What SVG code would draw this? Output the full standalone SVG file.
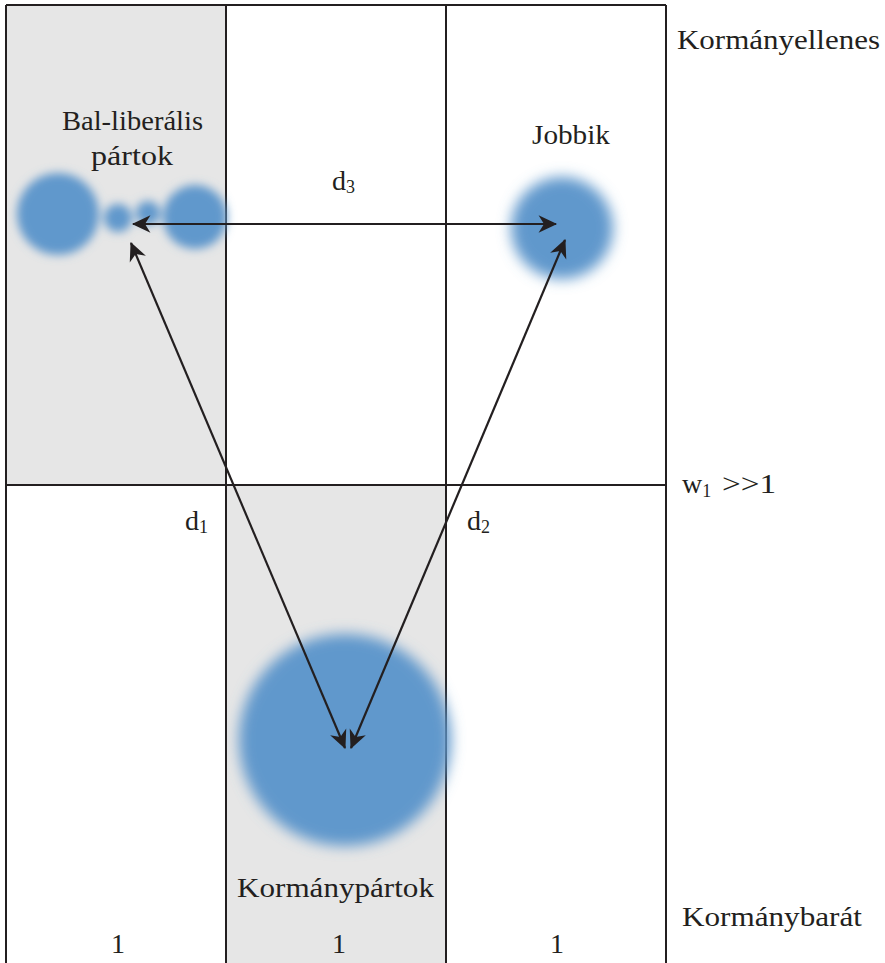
<svg xmlns="http://www.w3.org/2000/svg" width="885" height="963" viewBox="0 0 885 963">
<style>
.ln{stroke:#231f20;stroke-width:2;fill:none}
.ar{stroke:#231f20;stroke-width:2.2;fill:none}
.t{font-family:"Liberation Serif","DejaVu Serif",serif;fill:#231f20;font-size:28px}
.blob{fill:#6198cc}
</style>
<defs>
<filter id="blur" x="-50%" y="-50%" width="200%" height="200%"><feGaussianBlur stdDeviation="5"/></filter>
<filter id="blur2" x="-50%" y="-50%" width="200%" height="200%"><feGaussianBlur stdDeviation="7"/></filter>
<marker id="ah" markerUnits="userSpaceOnUse" markerWidth="24" markerHeight="24" viewBox="-20 -10 22 20" refX="0" refY="0" orient="auto-start-reverse">
<path d="M1,0 L-16,-8 L-11,0 L-16,8 z" fill="#231f20"/>
</marker>
</defs>
<rect width="885" height="963" fill="#ffffff"/>
<g id="grid">
<rect x="6" y="5" width="220" height="480" fill="#e6e6e6"/>
<rect x="226" y="485" width="220" height="478" fill="#e6e6e6"/>
<path class="ln" d="M6,5 H666 M6,5 V963 M226,5 V963 M446,5 V963 M666,5 V963 M6,485 H666"/>
</g>
<g id="bal-liberalis">
<g filter="url(#blur)">
<circle class="blob" cx="58" cy="214" r="41"/>
<circle class="blob" cx="118" cy="218" r="14"/>
<circle class="blob" cx="148" cy="213" r="12"/>
<circle class="blob" cx="195" cy="217" r="32"/>
</g>
<text class="t" x="62" y="130" textLength="141" lengthAdjust="spacingAndGlyphs">Bal-liberális</text>
<text class="t" x="91" y="165" textLength="82" lengthAdjust="spacingAndGlyphs">pártok</text>
</g>
<g id="jobbik">
<circle class="blob" cx="562" cy="228" r="51" filter="url(#blur2)"/>
<text class="t" x="532" y="144" textLength="78" lengthAdjust="spacingAndGlyphs">Jobbik</text>
</g>
<g id="kormanypartok">
<circle class="blob" cx="345" cy="740" r="106" filter="url(#blur2)"/>
<text class="t" x="237" y="897" textLength="197" lengthAdjust="spacingAndGlyphs">Kormánypártok</text>
</g>
<g id="connectors">
<line class="ar" x1="133" y1="224" x2="556" y2="224" marker-start="url(#ah)" marker-end="url(#ah)"/>
<line class="ar" x1="131" y1="243" x2="345" y2="748" marker-start="url(#ah)" marker-end="url(#ah)"/>
<line class="ar" x1="565" y1="240" x2="351" y2="748" marker-start="url(#ah)" marker-end="url(#ah)"/>
</g>
<g id="labels">
<text class="t" x="332" y="190">d<tspan font-size="18" dy="3">3</tspan></text>
<text class="t" x="185" y="530">d<tspan font-size="18" dy="3">1</tspan></text>
<text class="t" x="467" y="530">d<tspan font-size="18" dy="3">2</tspan></text>
<text class="t" x="677" y="49" textLength="203" lengthAdjust="spacingAndGlyphs">Kormányellenes</text>
<text class="t" x="682" y="926" textLength="180" lengthAdjust="spacingAndGlyphs">Kormánybarát</text>
<text class="t" x="682" y="493">w<tspan font-size="18" dy="4">1</tspan></text>
<text class="t" x="722" y="493" font-size="31" textLength="54" lengthAdjust="spacingAndGlyphs">&gt;&gt;1</text>
<text class="t" x="118" y="953" text-anchor="middle">1</text>
<text class="t" x="339" y="953" text-anchor="middle">1</text>
<text class="t" x="557" y="953" text-anchor="middle">1</text>
</g>
</svg>
